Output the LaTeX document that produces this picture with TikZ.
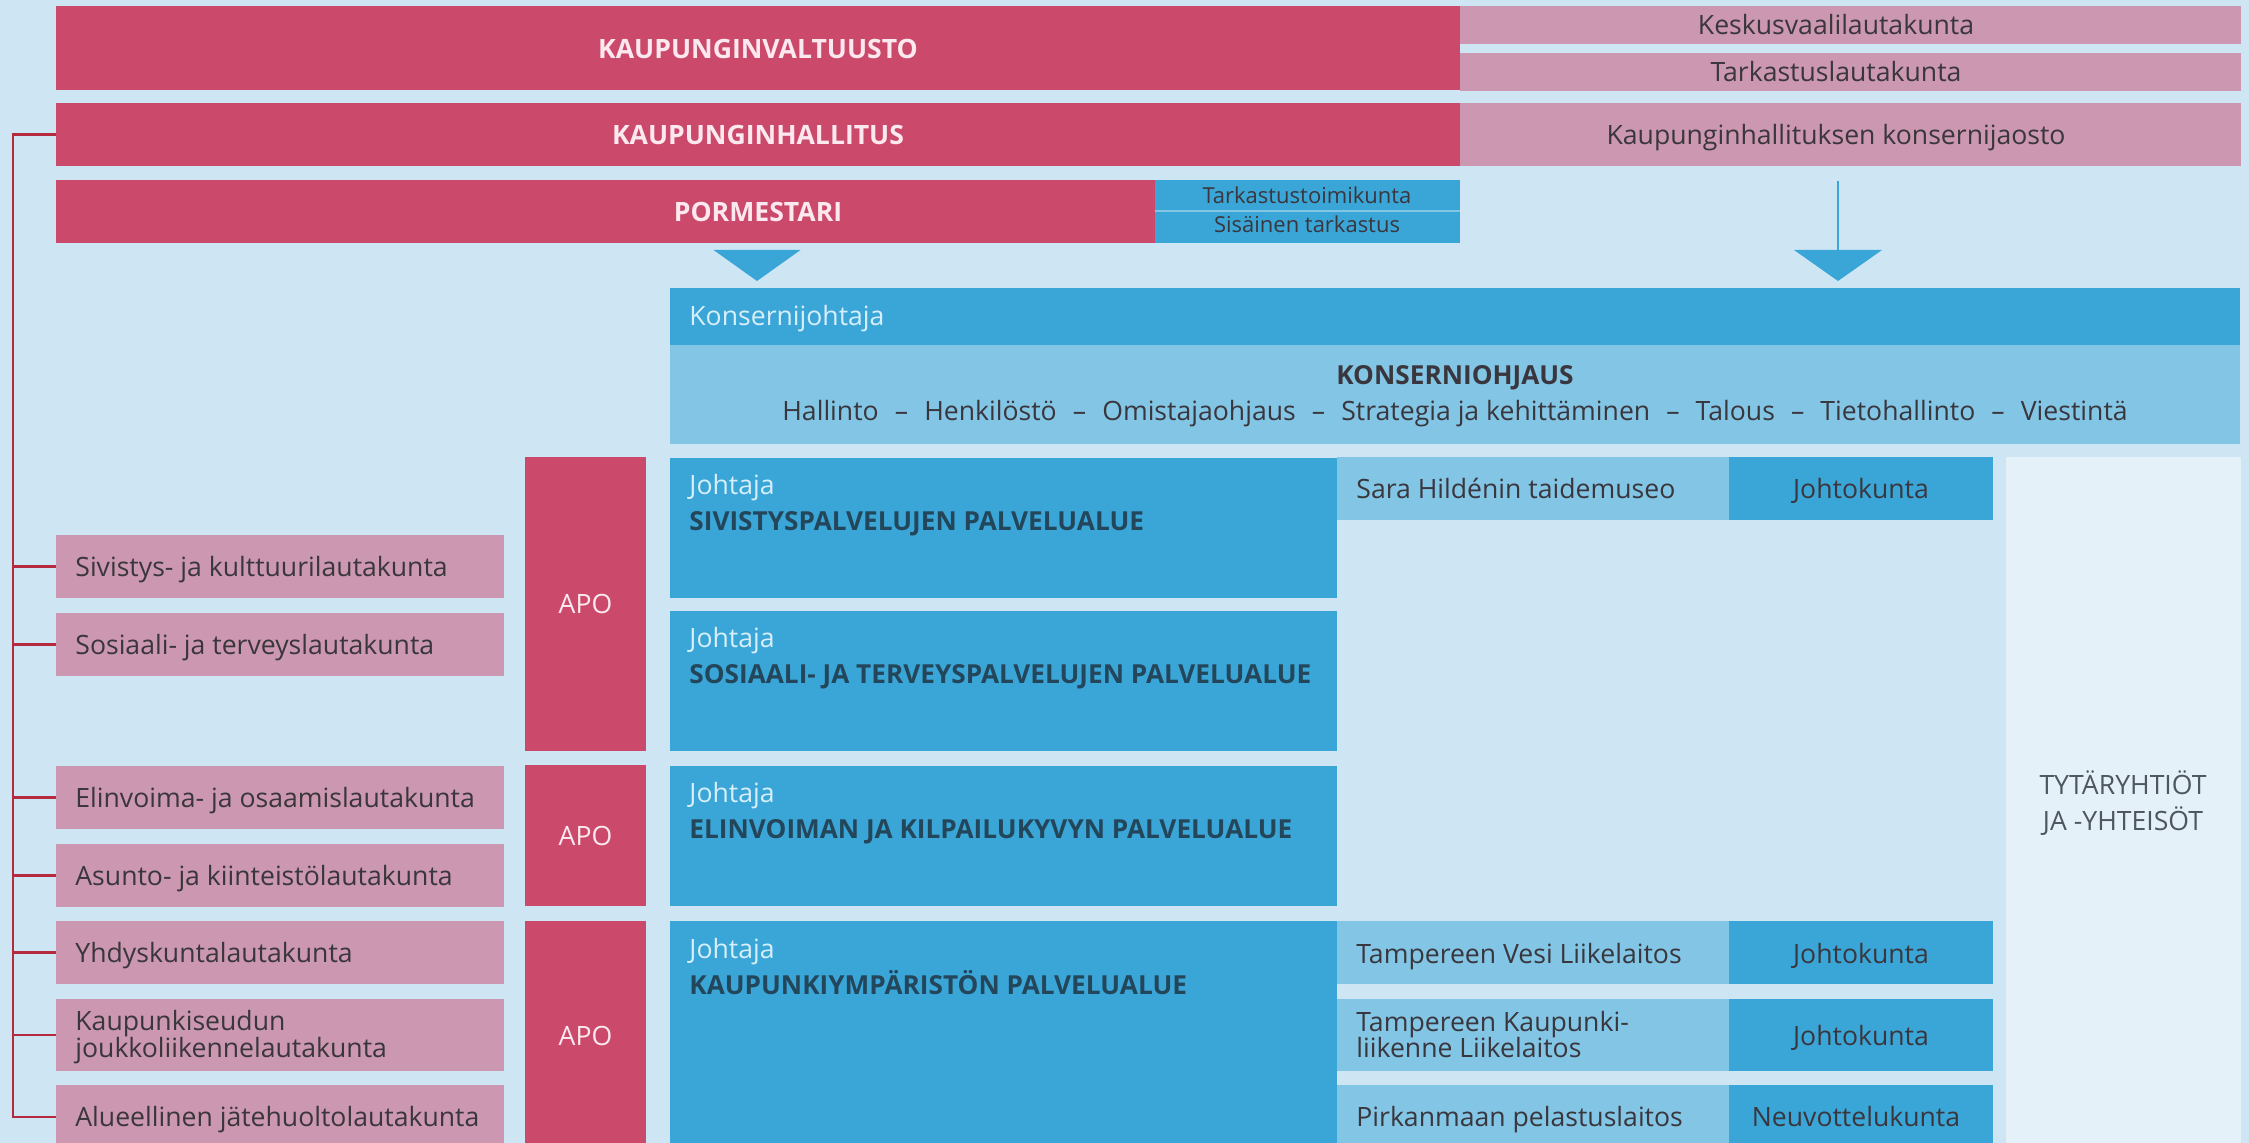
\documentclass[tikz,border=0pt]{standalone}
\usepackage{fontspec}
\setmainfont{Open Sans}
\definecolor{bgc}{HTML}{CEE5F4}
\definecolor{redc}{HTML}{CB4A6B}
\definecolor{pinkc}{HTML}{CC97B0}
\definecolor{bluec}{HTML}{3AA6D8}
\definecolor{lbluec}{HTML}{82C5E5}
\definecolor{vlightc}{HTML}{E4F1F9}
\definecolor{linec}{HTML}{B52A3D}
\definecolor{darktext}{HTML}{3A363D}
\definecolor{bluetext}{HTML}{24465A}
\definecolor{whitetext}{HTML}{FCE9EF}
\definecolor{jtext}{HTML}{D8EEF9}
\definecolor{graytext}{HTML}{4E575D}
\newcommand\bx[6]{\node[boxc,fill=#6,minimum width={(#4-#2)*0.5pt},minimum height={(#5-#3)*0.5pt}] (#1) at ({(#2+#4)/2},{(#3+#5)/2}) {};}
\newcommand\sepdash{\hspace{4.6pt} – \hspace{4.6pt}}
\begin{document}
\begin{tikzpicture}[x=0.5pt,y=-0.5pt,
  boxc/.style={rectangle,draw=none,inner sep=0pt,outer sep=0pt},
  tx/.style={inner sep=0pt,font=\fontsize{13.3}{16}\selectfont},
  wt/.style={tx,text=whitetext,font=\fontsize{13.3}{16}\selectfont\bfseries,anchor=base},
  dk/.style={tx,text=darktext,anchor=base west},
  dkc/.style={tx,text=darktext,anchor=base},
  jt/.style={tx,text=jtext,anchor=base west},
  bt/.style={tx,text=bluetext,font=\fontsize{13.1}{16}\selectfont\bfseries,anchor=base west},
  sm/.style={inner sep=0pt,text=darktext,font=\fontsize{11}{13}\selectfont,anchor=base},
  apo/.style={tx,text=whitetext,anchor=base},
  branch/.style={draw=linec,line width=1.2pt},
  tri/.style={fill=bluec,draw=none}]
\clip (0,0) rectangle (2249,1143);
\fill[bgc] (0,0) rectangle (2249,1143);
% top governance
\bx{valt}{56}{6}{1460}{90}{redc}
\bx{kvl}{1460}{6}{2241}{44}{pinkc}
\bx{tarl}{1460}{53}{2241}{91}{pinkc}
\bx{hall}{56}{103}{1460}{166}{redc}
\bx{jaos}{1460}{103}{2241}{166}{pinkc}
\bx{porm}{56}{180}{1155}{243}{redc}
\bx{tback}{1155}{180}{1460}{243}{lbluec}
\bx{ttk}{1155}{180}{1460}{210.5}{bluec}
\bx{sis}{1155}{212.5}{1460}{243}{bluec}
% konserni
\bx{kj}{670}{288}{2240}{345}{bluec}
\bx{ko}{670}{345}{2240}{444}{lbluec}
% APO
\bx{apo1}{525}{457}{646}{751}{redc}
\bx{apo2}{525}{765}{646}{906}{redc}
\bx{apo3}{525}{921}{646}{1150}{redc}
% service areas
\bx{siv}{670}{458}{1337}{598}{bluec}
\bx{sos}{670}{611}{1337}{751}{bluec}
\bx{eli}{670}{766}{1337}{906}{bluec}
\bx{kym}{670}{921}{1337}{1150}{bluec}
\bx{sara}{1337}{457}{1729}{520}{lbluec}
\bx{saraj}{1729}{457}{1993}{520}{bluec}
\bx{vesi}{1337}{921}{1729}{984}{lbluec}
\bx{vesij}{1729}{921}{1993}{984}{bluec}
\bx{tkl}{1337}{999}{1729}{1071}{lbluec}
\bx{tklj}{1729}{999}{1993}{1071}{bluec}
\bx{pel}{1337}{1085}{1729}{1149}{lbluec}
\bx{pelj}{1729}{1085}{1993}{1149}{bluec}
\bx{tyt}{2006}{457}{2241}{1150}{vlightc}
% boards
\bx{l1}{56}{535}{504}{598}{pinkc}
\bx{l2}{56}{613}{504}{676}{pinkc}
\bx{l3}{56}{766}{504}{829}{pinkc}
\bx{l4}{56}{844}{504}{907}{pinkc}
\bx{l5}{56}{921}{504}{984}{pinkc}
\bx{l6}{56}{999}{504}{1071}{pinkc}
\bx{l7}{56}{1085}{504}{1149}{pinkc}
% branch line
\coordinate (trtop) at (13,134.5);
\coordinate (trbot) at (13,1117);
\draw[branch,line join=miter] (hall.west) -- (trtop) -- (trbot) -- (l7.west);
\foreach \n in {l1,l2,l3,l4,l5,l6}{\draw[branch] (\n.west) -- (\n.west -| trtop);}
% arrows
\coordinate (a1) at (757,250);
\fill[tri] (a1) ++(-43.5,0) -- ++(87,0) -- (757,281) -- cycle;
\coordinate (a2s) at (1838,181);
\coordinate (a2) at (1838,250);
\draw[draw=bluec,line width=0.8pt] (a2s) -- (a2);
\fill[tri] (a2) ++(-44,0) -- ++(88,0) -- (1838,281) -- cycle;
% texts
\node[wt] (valt-t) at (758,59) {KAUPUNGINVALTUUSTO};
\node[wt] (hall-t) at (758,145) {KAUPUNGINHALLITUS};
\node[wt] (porm-t) at (758,222) {PORMESTARI};
\node[dkc] (kvl-t) at (1836,35) {Keskusvaalilautakunta};
\node[dkc] (tarl-t) at (1836,82) {Tarkastuslautakunta};
\node[dkc] (jaos-t) at (1836,145) {Kaupunginhallituksen konsernijaosto};
\node[sm] (ttk-t) at (1307,204) {Tarkastustoimikunta};
\node[sm] (sis-t) at (1307,233) {Sisäinen tarkastus};
\node[jt] (kj-t) at (689,326) {Konsernijohtaja};
\node[tx,text=darktext,font=\fontsize{13.1}{16}\selectfont\bfseries,anchor=base] (ko-t) at (1455,385) {KONSERNIOHJAUS};
\node[dkc] (ko-l) at (1455,421) {Hallinto\sepdash Henkilöstö\sepdash Omistajaohjaus\sepdash Strategia ja kehittäminen\sepdash Talous\sepdash Tietohallinto\sepdash Viestintä};
\node[jt] (siv-j) at (689,495) {Johtaja};
\node[bt] (siv-t) at (689,531) {SIVISTYSPALVELUJEN PALVELUALUE};
\node[jt] (sos-j) at (689,648) {Johtaja};
\node[bt] (sos-t) at (689,684) {SOSIAALI- JA TERVEYSPALVELUJEN PALVELUALUE};
\node[jt] (eli-j) at (689,803) {Johtaja};
\node[bt] (eli-t) at (689,839) {ELINVOIMAN JA KILPAILUKYVYN PALVELUALUE};
\node[jt] (kym-j) at (689,958) {Johtaja};
\node[bt] (kym-t) at (689,994) {KAUPUNKIYMPÄRISTÖN PALVELUALUE};
\node[dk] (sara-t) at (1356,499) {Sara Hildénin taidemuseo};
\node[dkc] (saraj-t) at (1861,499) {Johtokunta};
\node[dk] (vesi-t) at (1356,963) {Tampereen Vesi Liikelaitos};
\node[dkc] (vesij-t) at (1861,963) {Johtokunta};
\node[dk] (tkl-t1) at (1356,1031) {Tampereen Kaupunki-};
\node[dk] (tkl-t2) at (1356,1057) {liikenne Liikelaitos};
\node[dkc] (tklj-t) at (1861,1045) {Johtokunta};
\node[dk] (pel-t) at (1356,1126) {Pirkanmaan pelastuslaitos};
\node[dkc] (pelj-t) at (1856,1126) {Neuvottelukunta};
\node[tx,text=graytext,anchor=base] (tyt-t1) at (2123,795) {TYTÄRYHTIÖT};
\node[tx,text=graytext,anchor=base] (tyt-t2) at (2123,830) {JA -YHTEISÖT};
\node[apo] (apo1-t) at (585.5,614) {APO};
\node[apo] (apo2-t) at (585.5,846) {APO};
\node[apo] (apo3-t) at (585.5,1045) {APO};
\node[dk] (l1-t) at (75,576.5) {Sivistys- ja kulttuurilautakunta};
\node[dk] (l2-t) at (75,654.5) {Sosiaali- ja terveyslautakunta};
\node[dk] (l3-t) at (75,807.5) {Elinvoima- ja osaamislautakunta};
\node[dk] (l4-t) at (75,885.5) {Asunto- ja kiinteistölautakunta};
\node[dk] (l5-t) at (75,962.5) {Yhdyskuntalautakunta};
\node[dk] (l6-t1) at (75,1030) {Kaupunkiseudun};
\node[dk] (l6-t2) at (75,1057) {joukkoliikennelautakunta};
\node[dk] (l7-t) at (75,1126) {Alueellinen jätehuoltolautakunta};
\end{tikzpicture}
\end{document}
